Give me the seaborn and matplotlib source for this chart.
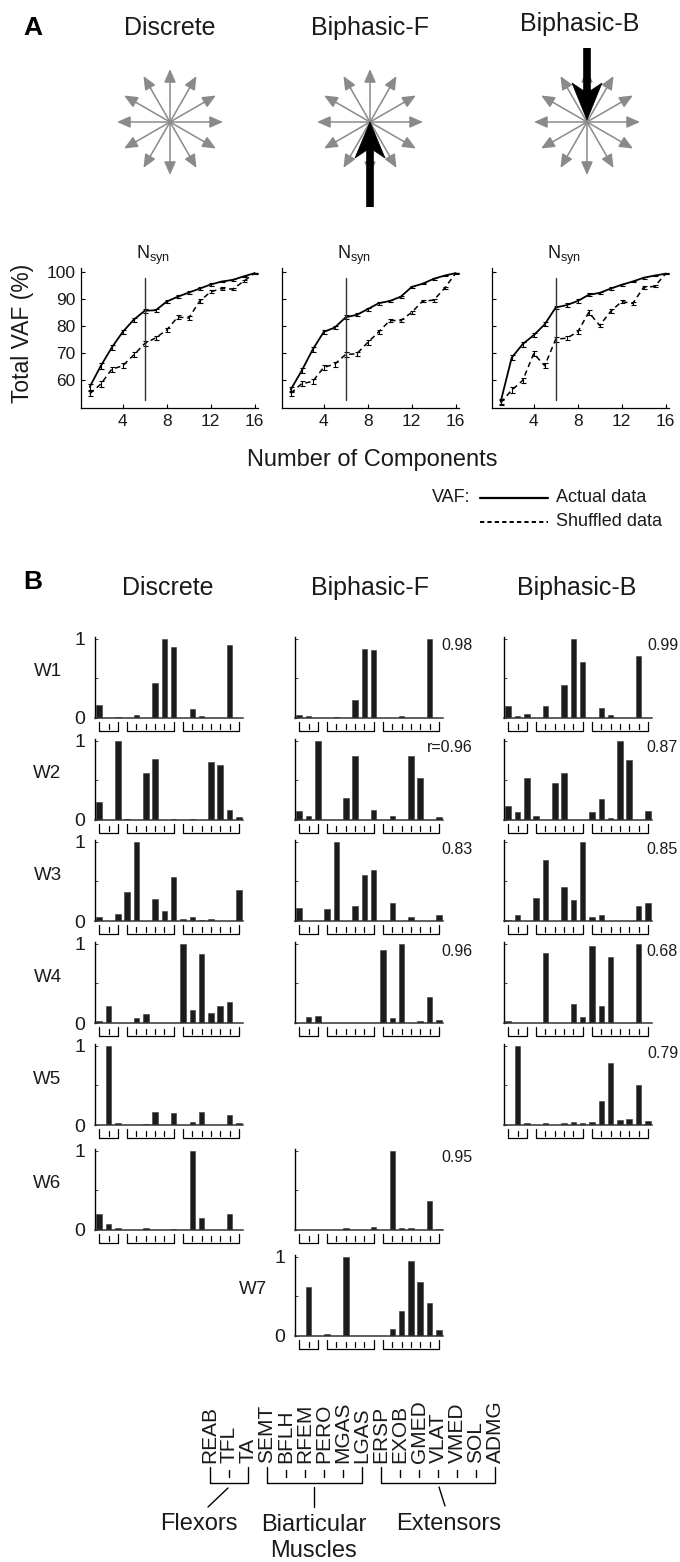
import numpy as np
import pandas as pd
import matplotlib
matplotlib.use("Agg")
import matplotlib.pyplot as plt
import matplotlib.transforms as mtransforms
from matplotlib.patches import Polygon
import seaborn as sns

sns.set_theme(style="white")
plt.rcParams["font.family"] = ["Liberation Sans", "DejaVu Sans"]
plt.rcParams["mathtext.fontset"] = "custom"
plt.rcParams["mathtext.rm"] = "Liberation Sans"
plt.rcParams["mathtext.it"] = "Liberation Sans:italic"
plt.rcParams["mathtext.bf"] = "Liberation Sans:bold"

# ---------------- data ----------------
conditions = ["Discrete", "Biphasic-F", "Biphasic-B"]
n_components = list(range(1, 17))
vaf_ticks = [60, 70, 80, 90, 100]
comp_ticks = [4, 8, 12, 16]
n_syn = 6

vaf_actual_discrete = [57.5, 65.2, 72.0, 77.8, 82.3, 85.6, 85.8, 89.0, 90.8, 92.3, 93.8, 95.3, 96.4, 97.0, 98.3, 99.5]
vaf_shuffled_discrete = [55.0, 58.5, 64.0, 65.3, 69.3, 73.5, 75.6, 78.5, 83.3, 82.9, 89.2, 92.6, 93.8, 93.6, 96.5, 99.5]
vaf_actual_bf = [56.5, 63.5, 71.3, 77.8, 79.4, 83.2, 84.1, 86.2, 88.4, 89.2, 90.8, 94.4, 95.6, 97.4, 98.6, 99.5]
vaf_shuffled_bf = [55.1, 58.7, 59.5, 64.7, 65.9, 69.5, 69.7, 73.9, 77.8, 82.0, 82.0, 85.0, 89.2, 89.5, 94.0, 99.5]
vaf_actual_bb = [52.1, 68.3, 73.3, 76.6, 80.6, 86.8, 87.7, 89.2, 91.5, 92.2, 93.8, 95.2, 96.4, 97.8, 98.6, 99.3]
vaf_shuffled_bb = [51.7, 56.3, 59.9, 69.8, 65.3, 75.1, 75.5, 77.8, 85.0, 80.2, 85.4, 89.0, 88.3, 94.3, 94.6, 99.3]
vaf_err_actual = [1.0, 1.0, 0.9, 0.8, 0.7, 0.7, 0.6, 0.6, 0.5, 0.5, 0.4, 0.4, 0.3, 0.3, 0.2, 0.1]
vaf_err_shuffled = [1.0, 1.0, 1.0, 0.9, 0.9, 0.9, 0.8, 0.8, 0.8, 0.7, 0.7, 0.6, 0.5, 0.5, 0.4, 0.2]

muscles = ["REAB", "TFL", "TA", "SEMT", "BFLH", "RFEM", "PERO", "MGAS", "LGAS",
           "ERSP", "EXOB", "GMED", "VLAT", "VMED", "SOL", "ADMG"]
muscle_groups = ["Flexors", "Biarticular\nMuscles", "Extensors"]
group_ranges = [(0, 2), (3, 8), (9, 15)]
synergy_names = ["W1", "W2", "W3", "W4", "W5", "W6", "W7"]

discrete_W1 = [0.16, 0, 0.01, 0, 0.04, 0, 0.44, 1.0, 0.895, 0, 0.11, 0.02, 0, 0, 0.92, 0]
discrete_W2 = [0.23, 0, 1.0, 0.01, 0, 0.59, 0.77, 0, 0.01, 0, 0.01, 0, 0.73, 0.69, 0.13, 0.04]
discrete_W3 = [0.05, 0, 0.09, 0.36, 1.0, 0, 0.28, 0.13, 0.55, 0.03, 0.05, 0.01, 0.03, 0, 0, 0.39]
discrete_W4 = [0.03, 0.22, 0, 0, 0.06, 0.11, 0, 0, 0, 1.0, 0.17, 0.87, 0.13, 0.22, 0.26, 0]
discrete_W5 = [0, 1.0, 0.02, 0, 0, 0.01, 0.17, 0, 0.15, 0, 0.04, 0.17, 0, 0, 0.12, 0.03]
discrete_W6 = [0.2, 0.07, 0.03, 0, 0, 0.03, 0, 0, 0.01, 0, 1.0, 0.15, 0, 0, 0.2, 0]

bf_W1 = [0.04, 0.03, 0, 0, 0.01, 0, 0.23, 0.87, 0.86, 0, 0, 0.03, 0, 0, 1.0, 0]
bf_W2 = [0.11, 0.05, 1.0, 0.005, 0, 0.28, 0.8, 0, 0.13, 0, 0.05, 0, 0.81, 0.53, 0, 0.04]
bf_W3 = [0.17, 0, 0, 0.15, 1.0, 0, 0.19, 0.58, 0.64, 0, 0.23, 0, 0.05, 0, 0, 0.08]
bf_W4 = [0, 0.08, 0.09, 0, 0, 0, 0, 0, 0, 0.92, 0.06, 1.0, 0, 0.03, 0.33, 0.04]
bf_W6 = [0, 0, 0, 0, 0, 0.02, 0, 0, 0.035, 0, 1.0, 0.02, 0.02, 0, 0.37, 0.01]
bf_W7 = [0, 0.62, 0, 0.03, 0, 1.0, 0, 0, 0, 0, 0.09, 0.32, 0.95, 0.68, 0.41, 0.07]

bb_W1 = [0.15, 0.02, 0.05, 0, 0.15, 0, 0.42, 1.0, 0.70, 0, 0.12, 0.04, 0, 0, 0.78, 0]
bb_W2 = [0.18, 0.1, 0.53, 0.05, 0, 0.47, 0.59, 0, 0, 0.1, 0.26, 0.03, 1.0, 0.75, 0, 0.11]
bb_W3 = [0.01, 0.08, 0, 0.29, 0.77, 0, 0.43, 0.27, 1.0, 0.05, 0.07, 0.005, 0, 0, 0.19, 0.23]
bb_W4 = [0.02, 0, 0, 0.005, 0.88, 0, 0, 0.24, 0.07, 0.97, 0.22, 0.83, 0, 0, 1.0, 0]
bb_W5 = [0, 1.0, 0.02, 0, 0.02, 0, 0.02, 0.04, 0.03, 0.04, 0.3, 0.78, 0.06, 0.07, 0.5, 0.05]

bf_corr = {"W1": "0.98", "W2": "r=0.96", "W3": "0.83", "W4": "0.96", "W6": "0.95"}
bb_corr = {"W1": "0.99", "W2": "0.87", "W3": "0.85", "W4": "0.68", "W5": "0.79"}

# ---------------- layout helpers ----------------
W, H = 680, 1562
fig = plt.figure(figsize=(W / 100, H / 100), dpi=100)
fig.patch.set_facecolor("white")


def frac_rect(left, top, width, height):
    return [left / W, 1 - (top + height) / H, width / W, height / H]


bg = fig.add_axes([0, 0, 1, 1])
bg.set_xlim(0, W)
bg.set_ylim(H, 0)
bg.axis("off")

TXT = "#1a1a1a"
GRAY = "#8a8a8a"

# ---------------- Panel A: direction schematics ----------------
bg.text(33, 28, "A", fontsize=19, fontweight="bold", ha="center", va="center", color="black")
title_x = [170, 370, 580]
title_y = [28, 28, 24]
star_x = [170, 370, 587]
star_y = 122
for cx, ty, name, sx in zip(title_x, title_y, conditions, star_x):
    bg.text(cx, ty, name, fontsize=18, ha="center", va="center", color=TXT)
    r = 53
    for k in range(12):
        a = np.deg2rad(30 * k)
        bg.annotate("", xy=(sx + r * np.cos(a), star_y - r * np.sin(a)), xytext=(sx, star_y),
                    arrowprops=dict(arrowstyle="-|>,head_length=0.5,head_width=0.22",
                                    color=GRAY, lw=1.1, shrinkA=0, shrinkB=0,
                                    mutation_scale=16), zorder=2)

# big black arrows (forward: from below, backward: from above)
fx = star_x[1]
bg.plot([fx, fx], [207, 146], color="black", lw=5.5, solid_capstyle="butt", zorder=5)
bg.add_patch(Polygon([(fx, 122), (fx - 15, 158), (fx, 148), (fx + 15, 158)], closed=True,
                     facecolor="black", edgecolor="black", lw=0.5, zorder=5))
bx = star_x[2]
bg.plot([bx, bx], [48, 94], color="black", lw=5.5, solid_capstyle="butt", zorder=5)
bg.add_patch(Polygon([(bx, 120), (bx - 15, 83), (bx, 93), (bx + 15, 83)], closed=True,
                     facecolor="black", edgecolor="black", lw=0.5, zorder=5))

# ---------------- Panel A: VAF curves ----------------
vaf_series = [(vaf_actual_discrete, vaf_shuffled_discrete),
              (vaf_actual_bf, vaf_shuffled_bf),
              (vaf_actual_bb, vaf_shuffled_bb)]
vaf_lefts = [80.7, 281.7, 491.7]
for i, (act, shf) in enumerate(vaf_series):
    ax = fig.add_axes(frac_rect(vaf_lefts[i], 267.7, 177, 140.6))
    ax.patch.set_alpha(0)
    df = pd.DataFrame({"n": n_components + n_components,
                       "vaf": act + shf,
                       "kind": ["Actual data"] * 16 + ["Shuffled data"] * 16})
    sns.lineplot(data=df[df.kind == "Actual data"], x="n", y="vaf", color="black", lw=1.3, ax=ax)
    sns.lineplot(data=df[df.kind == "Shuffled data"], x="n", y="vaf", color="black", lw=1.1,
                 ax=ax, linestyle=(0, (3.5, 2.5)))
    ax.errorbar(n_components, act, yerr=vaf_err_actual, fmt="none", ecolor="black",
                elinewidth=0.8, capsize=1.8, capthick=0.8)
    ax.errorbar(n_components, shf, yerr=vaf_err_shuffled, fmt="none", ecolor="black",
                elinewidth=0.8, capsize=1.8, capthick=0.8)
    ax.plot([n_syn, n_syn], [52.5, 97.8], color="#333333", lw=1.0)
    ax.text(n_syn - 0.8, 106.2, r"N$_{\mathrm{syn}}$", fontsize=13, ha="left", va="center",
            color=TXT, clip_on=False)
    ax.set_xlim(0.18, 16.27)
    ax.set_ylim(49.6, 101.5)
    ax.set_xticks(comp_ticks)
    ax.set_xticklabels([str(t) for t in comp_ticks], fontsize=12.5, color=TXT)
    ax.set_yticks(vaf_ticks)
    if i == 0:
        ax.set_yticklabels([str(t) for t in vaf_ticks], fontsize=12.5, color=TXT)
    else:
        ax.set_yticklabels([])
    ax.tick_params(direction="in", length=3, width=0.8, pad=4, colors="black",
                   labelcolor=TXT, bottom=True, left=True)
    ax.set_xlabel("")
    ax.set_ylabel("")
    for s in ["top", "right"]:
        ax.spines[s].set_visible(False)
    for s in ["left", "bottom"]:
        ax.spines[s].set_color("black")
        ax.spines[s].set_linewidth(0.9)

bg.text(23, 333, "Total VAF (%)", fontsize=16.5, rotation=90, ha="center", va="center", color=TXT)
bg.text(372, 460, "Number of Components", fontsize=17, ha="center", va="center", color=TXT)

# legend
bg.text(432, 497, "VAF:", fontsize=13, ha="left", va="center", color=TXT)
bg.plot([480, 548], [497.5, 497.5], color="black", lw=1.6)
bg.text(556, 497, "Actual data", fontsize=13, ha="left", va="center", color=TXT)
bg.plot([480, 548], [521.5, 521.5], color="black", lw=1.4, linestyle=(0, (2.2, 1.6)))
bg.text(556, 521, "Shuffled data", fontsize=13, ha="left", va="center", color=TXT)

# ---------------- Panel B: synergy weights ----------------
bg.text(33, 582, "B", fontsize=19, fontweight="bold", ha="center", va="center", color="black")
b_title_x = [168, 370, 577]
for cx, name in zip(b_title_x, conditions):
    bg.text(cx, 588, name, fontsize=18, ha="center", va="center", color=TXT)

baselines = [718, 820, 921, 1023, 1125, 1230, 1336]
col_lefts = [95, 295, 504]
AX_W, AX_H = 148, 81

panels = {
    (0, 0): discrete_W1, (0, 1): discrete_W2, (0, 2): discrete_W3,
    (0, 3): discrete_W4, (0, 4): discrete_W5, (0, 5): discrete_W6,
    (1, 0): bf_W1, (1, 1): bf_W2, (1, 2): bf_W3, (1, 3): bf_W4, (1, 5): bf_W6, (1, 6): bf_W7,
    (2, 0): bb_W1, (2, 1): bb_W2, (2, 2): bb_W3, (2, 3): bb_W4, (2, 4): bb_W5,
}


def bar_panel(left, base, values, show_labels):
    ax = fig.add_axes(frac_rect(left, base - AX_H, AX_W, AX_H))
    ax.patch.set_alpha(0)
    df = pd.DataFrame({"muscle": muscles, "weight": values})
    sns.barplot(data=df, x="muscle", y="weight", order=muscles, color="#1c1c1c",
                saturation=1, width=0.6, edgecolor="#3a3a3a", linewidth=0.4,
                errorbar=None, ax=ax)
    ax.set_xlim(-0.46, 15.45)
    ax.set_ylim(0, 1.02)
    ax.set_xticks([])
    ax.set_yticks([0, 0.5, 1])
    if show_labels:
        ax.set_yticklabels(["0", "", "1"], fontsize=14, color=TXT)
    else:
        ax.set_yticklabels([])
    ax.tick_params(axis="y", direction="in", length=2, width=0.6, pad=7, left=True)
    ax.set_xlabel("")
    ax.set_ylabel("")
    for s in ["top", "right"]:
        ax.spines[s].set_visible(False)
    ax.spines["left"].set_color("black")
    ax.spines["left"].set_linewidth(1.0)
    ax.spines["bottom"].set_color("#333333")
    ax.spines["bottom"].set_linewidth(1.1)
    trans = mtransforms.blended_transform_factory(ax.transData, ax.transAxes)
    for a, b in group_ranges:
        ax.plot([a, a, b, b], [-0.05, -0.16, -0.16, -0.05], transform=trans,
                color="black", lw=0.9, clip_on=False)
        for m in range(a + 1, b):
            ax.plot([m, m], [-0.07, -0.13], transform=trans, color="black", lw=0.9,
                    clip_on=False)
    return ax


for (c, r), vals in panels.items():
    base = baselines[r]
    if r == 6:
        left = col_lefts[1]
        show = True
    else:
        left = col_lefts[c]
        show = (c == 0)
    bar_panel(left, base, vals, show)

# row labels
for r, name in enumerate(synergy_names[:6]):
    bg.text(47.5, baselines[r] - 46, name, fontsize=13.5, ha="center", va="center", color=TXT)
bg.text(253, baselines[6] - 46, synergy_names[6], fontsize=13.5, ha="center", va="center", color=TXT)

# similarity values
for r, name in enumerate(synergy_names):
    if name in bf_corr:
        bg.text(473, baselines[r] - 72, bf_corr[name], fontsize=11.5, ha="right", va="center", color=TXT)
    if name in bb_corr:
        bg.text(678, baselines[r] - 72, bb_corr[name], fontsize=11.5, ha="right", va="center", color=TXT)

# ---------------- muscle key ----------------
key_x0, key_dx = 210, 19.0
for i, m in enumerate(muscles):
    bg.text(key_x0 + key_dx * i, 1463, m, rotation=90, fontsize=15, ha="center", va="bottom",
            color=TXT)
for a, b in group_ranges:
    xa, xb = key_x0 + key_dx * a, key_x0 + key_dx * b
    bg.plot([xa, xa, xb, xb], [1467, 1483, 1483, 1467], color="black", lw=1.0)
    for m in range(a + 1, b):
        xm = key_x0 + key_dx * m
        bg.plot([xm, xm], [1469.5, 1476.5], color="black", lw=1.0)

bg.plot([228, 208], [1488, 1507], color="black", lw=1.0)
bg.plot([314, 314], [1487, 1507], color="black", lw=1.0)
bg.plot([439, 445], [1487, 1506], color="black", lw=1.0)
bg.text(198.5, 1524, muscle_groups[0], fontsize=17, ha="center", va="center", color=TXT)
bg.text(314, 1538, muscle_groups[1], fontsize=17, ha="center", va="center", color=TXT,
        linespacing=1.25)
bg.text(449, 1524, muscle_groups[2], fontsize=17, ha="center", va="center", color=TXT)

fig.savefig("out.png", dpi=100, facecolor="white")
